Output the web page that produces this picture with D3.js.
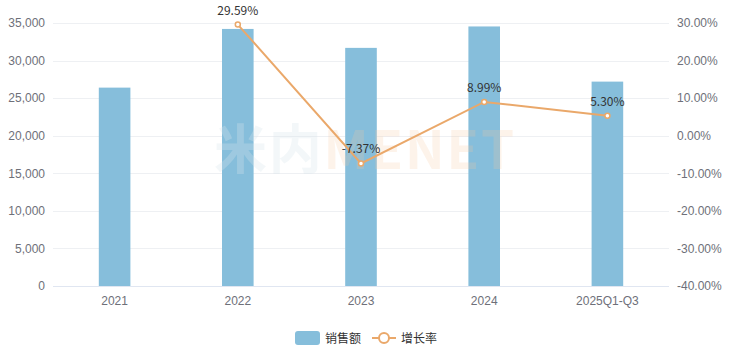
<!DOCTYPE html>
<html>
<head>
<meta charset="utf-8">
<script src="https://cdn.jsdelivr.net/npm/d3@7"></script>
<style>
  body { margin: 0; background: #fff; }
  svg { display: block; font-family: "Microsoft YaHei", "Noto Sans CJK SC", "Noto Sans", sans-serif; }
</style>
</head>
<body>
<div id="chart"></div>
<script>
var years = ["2021", "2022", "2023", "2024", "2025Q1-Q3"];
var sales = [26400, 34210, 31690, 34540, 27200];
var growth = [null, 29.59, -7.37, 8.99, 5.30];
var leftTicks = [0, 5000, 10000, 15000, 20000, 25000, 30000, 35000];
var rightTicks = [-40, -30, -20, -10, 0, 10, 20, 30];

var width = 731, height = 353;
// note: "top" is a reserved window property, so use plot* names
var plotLeft = 53, plotRight = 669, plotTop = 23, plotBottom = 286;

var svg = d3.select("#chart").append("svg")
    .attr("width", width)
    .attr("height", height);

var x = d3.scaleBand().domain(years).range([plotLeft, plotRight]);
var y = d3.scaleLinear().domain([0, 35000]).range([plotBottom, plotTop]);
var y2 = d3.scaleLinear().domain([-40, 30]).range([plotBottom, plotTop]);

// grid lines
svg.append("g").selectAll("line")
    .data(leftTicks)
    .join("line")
    .attr("x1", plotLeft).attr("x2", plotRight)
    .attr("y1", function(d) { return Math.round(y(d)) + 0.5; })
    .attr("y2", function(d) { return Math.round(y(d)) + 0.5; })
    .attr("stroke", function(d) { return d == 0 ? "#e0e6f1" : "#eef0f3"; })
    .attr("stroke-width", 1);

// left axis labels
var yAxis = d3.axisLeft(y).tickValues(leftTicks).tickSize(0).tickPadding(8)
    .tickFormat(d3.format(","));
var gy = svg.append("g").attr("transform", "translate(" + plotLeft + ",0)").call(yAxis);
gy.select(".domain").remove();
gy.selectAll("text").attr("fill", "#6e7079").attr("font-size", 12).attr("font-family", null);

// right axis labels
var y2Axis = d3.axisRight(y2).tickValues(rightTicks).tickSize(0).tickPadding(8)
    .tickFormat(function(d) { return d.toFixed(2) + "%"; });
var gy2 = svg.append("g").attr("transform", "translate(" + plotRight + ",0)").call(y2Axis);
gy2.select(".domain").remove();
gy2.selectAll("text").attr("fill", "#6e7079").attr("font-size", 12).attr("font-family", null);

// x axis labels
var xAxis = d3.axisBottom(x).tickSize(0).tickPadding(10);
var gx = svg.append("g").attr("transform", "translate(0," + plotBottom + ")").call(xAxis);
gx.select(".domain").remove();
gx.selectAll("text").attr("fill", "#6e7079").attr("font-size", 12).attr("font-family", null);

// bars
var barW = 31.6;
svg.append("g").selectAll("rect")
    .data(sales)
    .join("rect")
    .attr("x", function(d, i) { return x(years[i]) + x.bandwidth() / 2 - barW / 2; })
    .attr("y", function(d) { return y(d); })
    .attr("width", barW)
    .attr("height", function(d) { return plotBottom - y(d); })
    .attr("fill", "#86bedb");

// watermark (sits over the bars, very faint)
var wm = svg.append("text")
    .attr("x", 214).attr("y", 169)
    .attr("font-size", 53)
    .attr("font-weight", "bold")
    .attr("textLength", 300)
    .attr("font-family", "'Noto Sans CJK SC', sans-serif");
wm.append("tspan").attr("fill", "#d6e4ea").attr("fill-opacity", 0.3).text("米内");
wm.append("tspan").attr("fill", "#f8c8a0").attr("fill-opacity", 0.22).text("MENET");

// growth line
var pts = growth.map(function(d, i) { return { year: years[i], v: d }; })
    .filter(function(d) { return d.v !== null; });

var line = d3.line()
    .x(function(d) { return x(d.year) + x.bandwidth() / 2; })
    .y(function(d) { return y2(d.v); });

svg.append("path")
    .datum(pts)
    .attr("d", line)
    .attr("fill", "none")
    .attr("stroke", "#eaa86a")
    .attr("stroke-width", 2);

svg.append("g").selectAll("circle")
    .data(pts)
    .join("circle")
    .attr("cx", function(d) { return x(d.year) + x.bandwidth() / 2; })
    .attr("cy", function(d) { return y2(d.v); })
    .attr("r", 2.5)
    .attr("fill", "#fff")
    .attr("stroke", "#eaa86a")
    .attr("stroke-width", 1.5);

svg.append("g").selectAll("text")
    .data(pts)
    .join("text")
    .attr("x", function(d) { return x(d.year) + x.bandwidth() / 2; })
    .attr("y", function(d) { return y2(d.v) - 10; })
    .attr("text-anchor", "middle")
    .attr("font-size", 12)
    .attr("fill", "#333")
    .text(function(d) { return d.v.toFixed(2) + "%"; });

// legend
var lg = svg.append("g").attr("transform", "translate(295,331)");
lg.append("rect").attr("x", 0).attr("y", 0).attr("width", 25).attr("height", 14)
    .attr("rx", 3).attr("fill", "#86bedb");
lg.append("text").attr("x", 30).attr("y", 12).attr("font-size", 12).attr("fill", "#333").text("销售额");
lg.append("line").attr("x1", 77).attr("x2", 101).attr("y1", 7).attr("y2", 7)
    .attr("stroke", "#eaa86a").attr("stroke-width", 2);
lg.append("circle").attr("cx", 89).attr("cy", 7).attr("r", 5)
    .attr("fill", "#fff").attr("stroke", "#eaa86a").attr("stroke-width", 2);
lg.append("text").attr("x", 106).attr("y", 12).attr("font-size", 12).attr("fill", "#333").text("增长率");
</script>
</body>
</html>
